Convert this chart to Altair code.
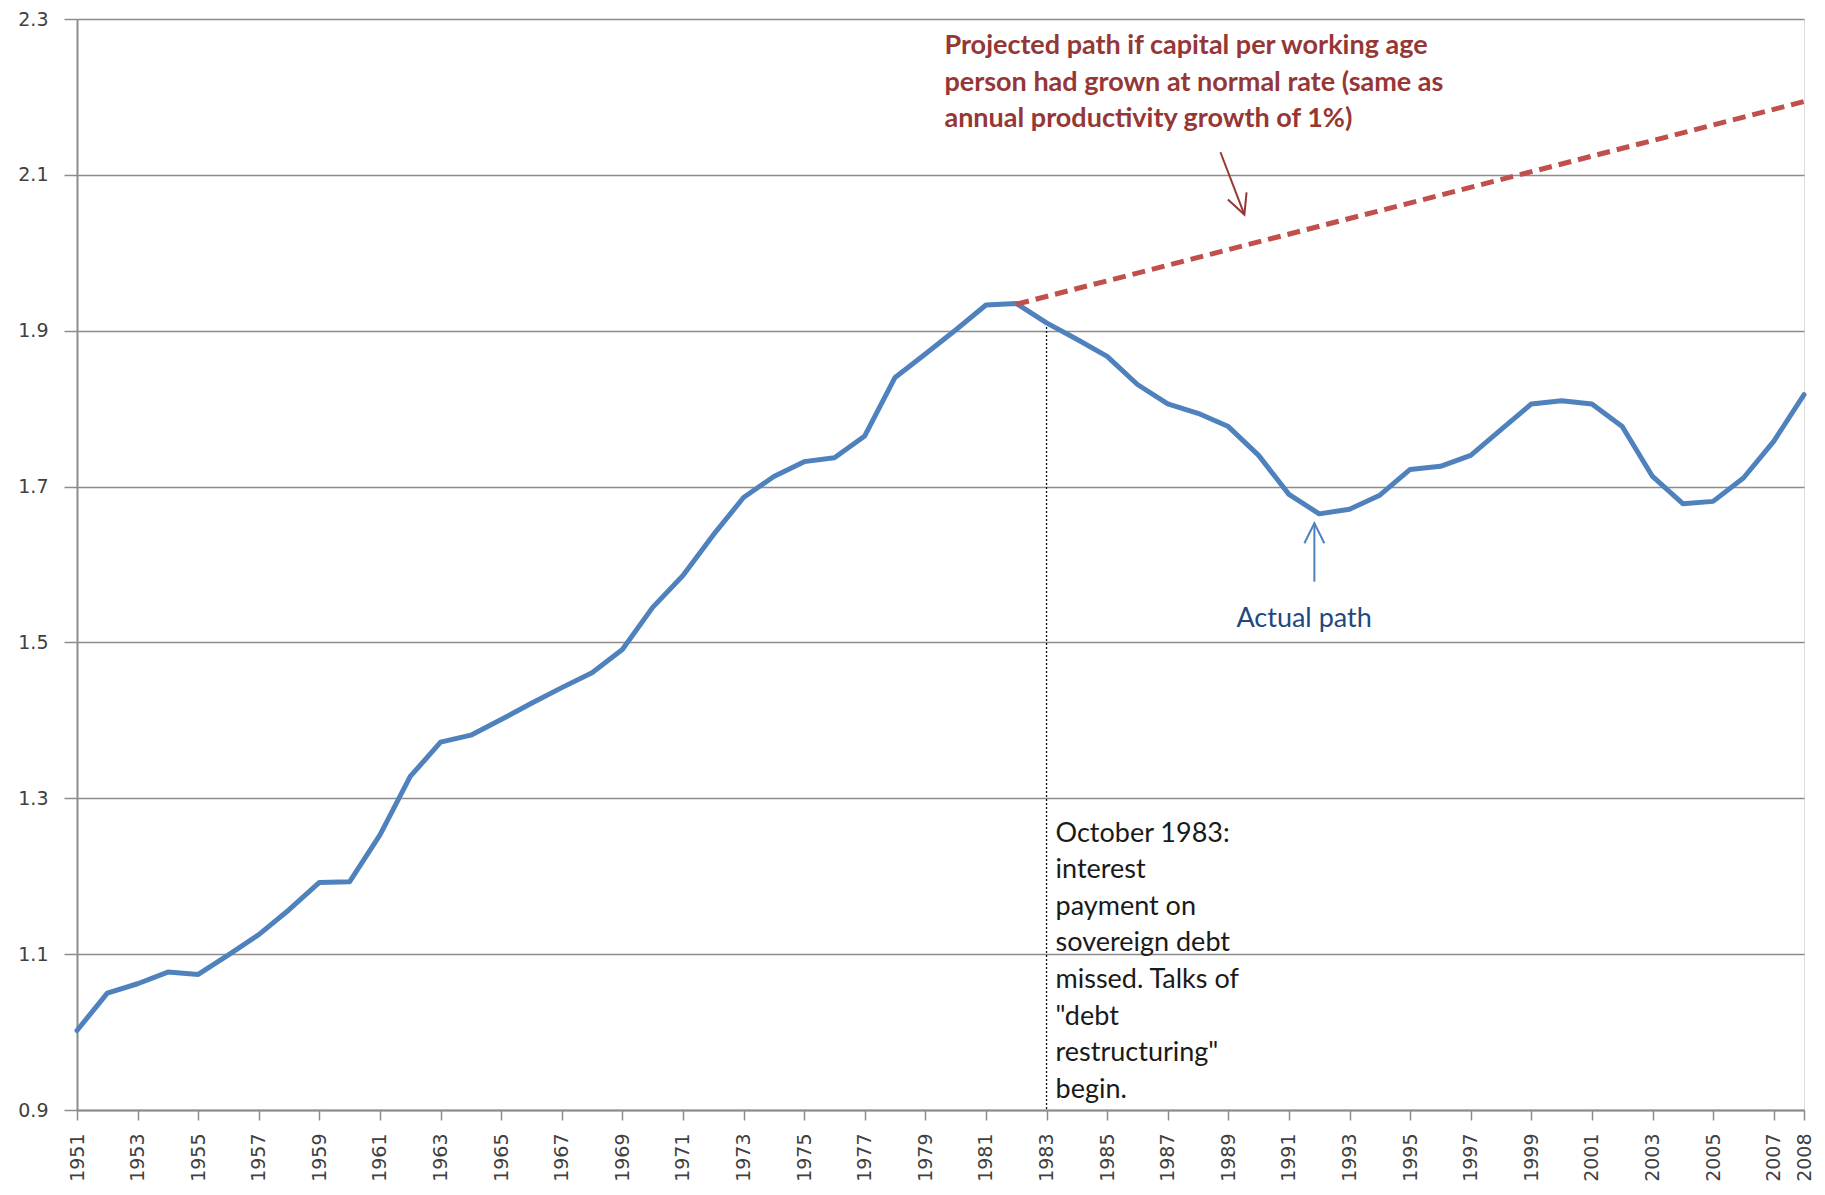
import altair as alt
import pandas as pd

# ---- data ----
years = list(range(1951, 2009))
actual = [1.002, 1.050, 1.062, 1.077, 1.074, 1.099, 1.125, 1.157, 1.192, 1.193,
          1.253, 1.328, 1.372, 1.381, 1.401, 1.422, 1.442, 1.461, 1.491, 1.545,
          1.586, 1.638, 1.686, 1.713, 1.732, 1.737, 1.765, 1.840, 1.870, 1.901,
          1.933, 1.935, 1.910, 1.889, 1.867, 1.831, 1.806, 1.794, 1.777, 1.740,
          1.690, 1.665, 1.671, 1.689, 1.722, 1.726, 1.740, 1.773, 1.806, 1.810,
          1.806, 1.777, 1.713, 1.678, 1.681, 1.711, 1.758, 1.818]

proj_years = [1982, 2008]
proj_values = [1.934, 2.194]

x_ticks = list(range(1951, 2008, 2)) + [2008]
y_ticks = [0.9, 1.1, 1.3, 1.5, 1.7, 1.9, 2.1, 2.3]

event_year = [1983]
event_top = [1.910]
event_bottom = [0.9]

red_text = ["Projected path if capital per working age",
            "person had grown at normal rate (same as",
            "annual productivity growth of 1%)"]
red_text_pos = [1979.63, 2.255]
red_arrow = [1988.74, 2.129, 1989.53, 2.049]   # x, y (tail) -> x2, y2 (tip)

black_text = ["October 1983:", "interest", "payment on", "sovereign debt",
              "missed. Talks of", "\"debt", "restructuring\"", "begin."]
black_text_pos = [1983.0, 1.2445]

blue_text = ["Actual path"]
blue_text_pos = [1991.5, 1.520]
blue_arrow = [1991.84, 1.578, 1991.84, 1.653]

FONT = "Lato"
TICKFONT = "DejaVu Sans"
TEXT_SIZE = 27

xs = alt.Scale(domain=[1951, 2008], nice=False, zero=False)
ys = alt.Scale(domain=[0.9, 2.3], nice=False, zero=False)

xax = alt.Axis(values=x_ticks, format="d", labelAngle=270, grid=False,
               tickSize=10, labelPadding=13, labelFont=TICKFONT, labelFontSize=19,
               labelColor="#404040", domainColor="#8c8c8c", domainWidth=2,
               tickColor="#8c8c8c", tickWidth=1.5, title=None, labelOverlap=False,
               labelBound=False, labelFlush=False)
yax = alt.Axis(values=y_ticks, format=".1f", grid=True, gridColor="#8c8c8c",
               gridWidth=1.5, tickSize=13, labelPadding=16, labelFont=TICKFONT,
               labelFontSize=19, labelColor="#404040", domainColor="#8c8c8c",
               domainWidth=2, tickColor="#8c8c8c", tickWidth=1.5, title=None)

df_actual = pd.DataFrame({"year": years, "value": actual})
df_proj = pd.DataFrame({"year": proj_years, "value": proj_values})
df_event = pd.DataFrame({"year": event_year, "top": event_top, "bottom": event_bottom})

base_line = alt.Chart(df_actual).mark_line(color="#4F81BD", strokeWidth=5,
                                            strokeJoin="round", strokeCap="round").encode(
    x=alt.X("year:Q", scale=xs, axis=xax),
    y=alt.Y("value:Q", scale=ys, axis=yax),
)

proj_line = alt.Chart(df_proj).mark_line(color="#C0504D", strokeWidth=5,
                                          strokeDash=[13, 7]).encode(
    x=alt.X("year:Q", scale=xs),
    y=alt.Y("value:Q", scale=ys),
)

event_rule = alt.Chart(df_event).mark_rule(color="#111111", strokeWidth=1.3,
                                            strokeDash=[2, 2]).encode(
    x=alt.X("year:Q", scale=xs),
    y=alt.Y("top:Q", scale=ys),
    y2="bottom:Q",
)

df_red_arrow = pd.DataFrame({"x": [red_arrow[0]], "y": [red_arrow[1]],
                             "x2": [red_arrow[2]], "y2": [red_arrow[3]]})
red_shaft = alt.Chart(df_red_arrow).mark_rule(color="#953735", strokeWidth=2).encode(
    x=alt.X("x:Q", scale=xs), y=alt.Y("y:Q", scale=ys), x2="x2:Q", y2="y2:Q")
red_head = alt.Chart(df_red_arrow).mark_point(
    shape="M-0.5,-1L0,0L0.5,-1", filled=False, color="#953735", strokeWidth=2,
    size=1600, angle=339, opacity=1).encode(
    x=alt.X("x2:Q", scale=xs), y=alt.Y("y2:Q", scale=ys))

df_blue_arrow = pd.DataFrame({"x": [blue_arrow[0]], "y": [blue_arrow[1]],
                              "x2": [blue_arrow[2]], "y2": [blue_arrow[3]]})
blue_shaft = alt.Chart(df_blue_arrow).mark_rule(color="#4F81BD", strokeWidth=2).encode(
    x=alt.X("x:Q", scale=xs), y=alt.Y("y:Q", scale=ys), x2="x2:Q", y2="y2:Q")
blue_head = alt.Chart(df_blue_arrow).mark_point(
    shape="M-0.5,1L0,0L0.5,1", filled=False, color="#4F81BD", strokeWidth=2,
    size=1600, opacity=1).encode(
    x=alt.X("x2:Q", scale=xs), y=alt.Y("y2:Q", scale=ys))

df_red_text = pd.DataFrame({"x": [red_text_pos[0]], "y": [red_text_pos[1]],
                            "t": ["\n".join(red_text)]})
red_label = alt.Chart(df_red_text).mark_text(
    align="left", baseline="alphabetic", font=FONT, fontSize=TEXT_SIZE, fontWeight="bold",
    color="#953735", lineBreak="\n", lineHeight=36.6).encode(
    x=alt.X("x:Q", scale=xs), y=alt.Y("y:Q", scale=ys), text="t:N")

df_black_text = pd.DataFrame({"x": [black_text_pos[0]], "y": [black_text_pos[1]],
                              "t": ["\n".join(black_text)]})
black_label = alt.Chart(df_black_text).mark_text(
    align="left", baseline="alphabetic", font=FONT, fontSize=TEXT_SIZE, dx=9,
    color="#1a1a1a", lineBreak="\n", lineHeight=36.6).encode(
    x=alt.X("x:Q", scale=xs), y=alt.Y("y:Q", scale=ys), text="t:N")

df_blue_text = pd.DataFrame({"x": [blue_text_pos[0]], "y": [blue_text_pos[1]],
                             "t": blue_text})
blue_label = alt.Chart(df_blue_text).mark_text(
    align="center", baseline="alphabetic", font=FONT, fontSize=TEXT_SIZE,
    color="#1F497D").encode(
    x=alt.X("x:Q", scale=xs), y=alt.Y("y:Q", scale=ys), text="t:N")

chart = alt.layer(
    event_rule, base_line, proj_line, red_shaft, red_head, blue_shaft, blue_head,
    red_label, black_label, blue_label
).properties(
    width=1727, height=1091,
    autosize=alt.AutoSizeParams(type="none"),
    padding={"left": 69, "top": 11, "right": 12, "bottom": 77},
).configure_view(stroke=None).configure(background="white")

chart.save("out.html", embed_options={"renderer": "svg", "actions": False})
